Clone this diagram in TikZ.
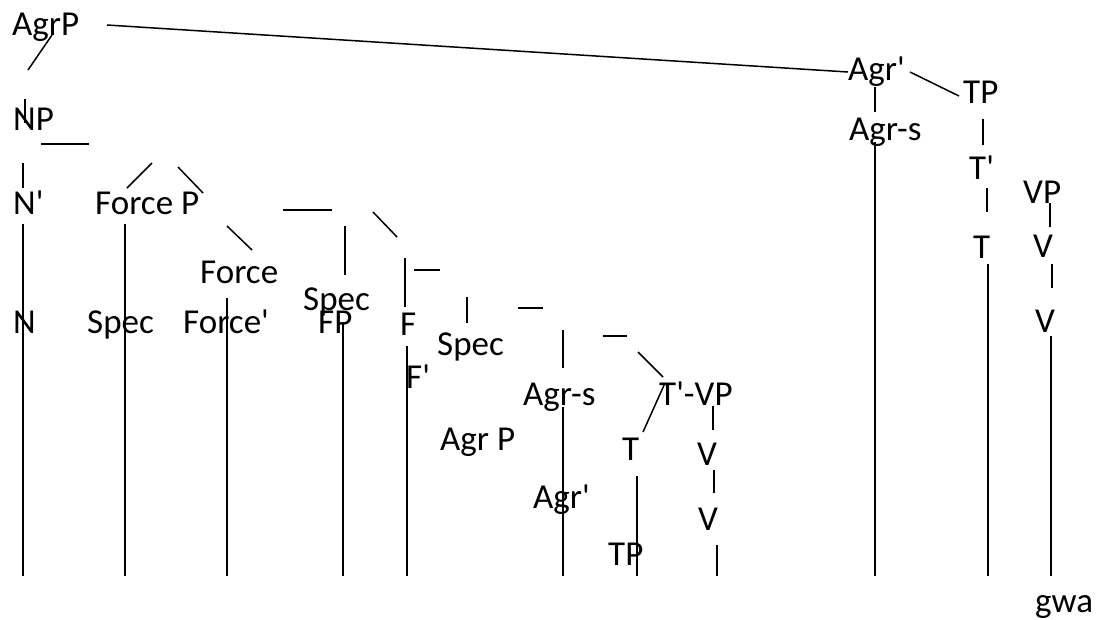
\documentclass[tikz,border=0pt]{standalone}
\usepackage{fontspec}
\setmainfont{Carlito}
\newcommand{\apos}{\textquotesingle}
\begin{document}
\begin{tikzpicture}[x=1pt,y=-1pt,
  lbl/.style={anchor=base west,inner sep=0pt,font=\fontsize{35}{42}\selectfont},
  ln/.style={line width=1.5pt}]
\useasboundingbox[fill=white] (0,0) rectangle (1099,619);
% labels
\node[lbl] (agrp) at (12,35) {AgrP};
\node[lbl] (np) at (13,130) {NP};
\node[lbl] (nbar) at (13,214) {N\apos};
\node[lbl] (forcep) at (95,214) {Force P};
\node[lbl] (force) at (200,283) {Force};
\node[lbl] (n) at (13,333) {N};
\node[lbl] (spec1) at (87,333) {Spec};
\node[lbl] (forcebar) at (183,333) {Force\apos};
\node[lbl] (spec2) at (303,310) {Spec};
\node[lbl] (fp) at (318,333) {FP};
\node[lbl] (f) at (400,335) {F};
\node[lbl] (spec3) at (437,355) {Spec};
\node[lbl] (fbar) at (406,388) {F\apos};
\node[lbl] (agrs1) at (523,405) {Agr-s};
\node[lbl] (tbarvp) at (659,405) {T\apos-VP};
\node[lbl] (agrp2) at (440,450) {Agr P};
\node[lbl] (t1) at (622,460) {T};
\node[lbl] (v1) at (697,465) {V};
\node[lbl] (agrbar1) at (533,508) {Agr\apos};
\node[lbl] (v2) at (698,530) {V};
\node[lbl] (tp1) at (608,565) {TP};
\node[lbl] (agrbar2) at (848,80) {Agr\apos};
\node[lbl] (tp2) at (963,103) {TP};
\node[lbl] (agrs2) at (849,140) {Agr-s};
\node[lbl] (tbar2) at (969,179) {T\apos};
\node[lbl] (vp) at (1023,203) {VP};
\node[lbl] (t2) at (973,258) {T};
\node[lbl] (v3) at (1033,257) {V};
\node[lbl] (v4) at (1035,332) {V};
\node[lbl] (gwa) at (1035,612) {gwa};
% lines
\draw[ln] (107,25) -- (848,72);
\draw[ln] (52,35) -- (28,70);
\draw[ln] (25,99) -- (25,123);
\draw[ln] (41,144) -- (89,144);
\draw[ln] (23,163) -- (23,188);
\draw[ln] (127,188) -- (152,163);
\draw[ln] (178,167) -- (203,193);
\draw[ln] (283,210) -- (332,210);
\draw[ln] (227,226) -- (252,250);
\draw[ln] (373,212) -- (397,237);
\draw[ln] (345,226) -- (345,275);
\draw[ln] (405,258) -- (405,307);
\draw[ln] (414,270) -- (440,270);
\draw[ln] (467,297) -- (467,323);
\draw[ln] (518,308) -- (543,308);
\draw[ln] (563,330) -- (563,368);
\draw[ln] (603,336) -- (627,336);
\draw[ln] (638,352) -- (663,377);
\draw[ln] (665,383) -- (643,432);
\draw[ln] (713,406) -- (713,430);
\draw[ln] (714,470) -- (714,493);
\draw[ln] (910,72) -- (959,96);
\draw[ln] (875,87) -- (875,112);
\draw[ln] (983,119) -- (983,145);
\draw[ln] (987,188) -- (987,212);
\draw[ln] (1050,203) -- (1050,227);
\draw[ln] (1052,264) -- (1052,288);
% long verticals
\draw[ln] (23,224) -- (23,576);
\draw[ln] (125,224) -- (125,576);
\draw[ln] (227,298) -- (227,576);
\draw[ln] (343,322) -- (343,576);
\draw[ln] (407,346) -- (407,576);
\draw[ln] (563,407) -- (563,576);
\draw[ln] (637,476) -- (637,576);
\draw[ln] (717,545) -- (717,576);
\draw[ln] (875,142) -- (875,576);
\draw[ln] (988,264) -- (988,576);
\draw[ln] (1051,336) -- (1051,576);
\end{tikzpicture}
\end{document}
